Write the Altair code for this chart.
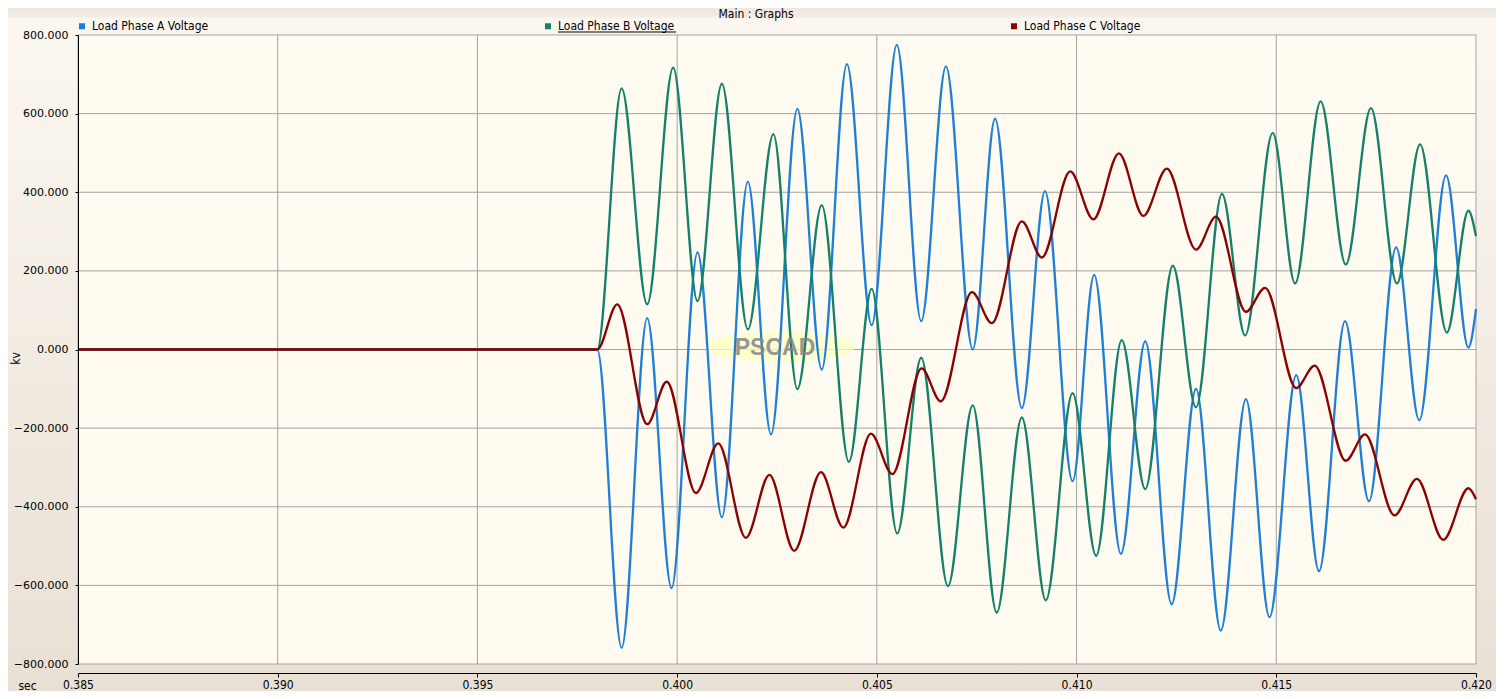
import altair as alt
import pandas as pd

# ---- data (time in ms, voltage in kV) ----
series_names = ["Load Phase A Voltage", "Load Phase B Voltage", "Load Phase C Voltage"]
series_colors = ["#1E7FD9", "#15806A", "#8B0000"]

t_a = [385.00, 398.00, 398.61, 399.25, 399.86, 400.51, 401.12, 401.77, 402.35, 403.01,
       403.62, 404.25, 404.87, 405.50, 406.11, 406.73, 407.40, 407.96, 408.63, 409.21,
       409.90, 410.44, 411.11, 411.72, 412.38, 412.99, 413.61, 414.24, 414.83, 415.50,
       416.07, 416.72, 417.32, 418.00, 418.58, 419.25, 419.81, 420.00]
v_a = [0, 0, -759, 80, -607, 247, -427, 427, -216, 612,
       -51, 726, 62, 775, 72, 720, 0, 587, -149, 403,
       -335, 190, -520, 21, -648, -100, -715, -126, -681, -65,
       -564, 72, -386, 260, -180, 443, 5, 103]

t_b = [385.00, 398.00, 398.61, 399.25, 399.90, 400.51, 401.12, 401.77, 402.41, 403.01,
       403.62, 404.30, 404.87, 405.51, 406.11, 406.78, 407.40, 408.00, 408.63, 409.23,
       409.90, 410.49, 411.13, 411.72, 412.41, 412.99, 413.64, 414.22, 414.91, 415.47,
       416.11, 416.74, 417.37, 418.02, 418.60, 419.27, 419.81, 420.00]
v_b = [0, 0, 664, 115, 717, 123, 676, 51, 548, -101,
       367, -286, 154, -468, -21, -602, -142, -669, -173, -638,
       -111, -525, 24, -355, 213, -147, 396, 36, 551, 168,
       631, 216, 614, 168, 522, 43, 353, 288]

t_c = [385.00, 398.00, 398.50, 399.25, 399.74, 400.47, 401.03, 401.72, 402.31, 402.93,
       403.60, 404.16, 404.85, 405.39, 406.12, 406.60, 407.38, 407.88, 408.63, 409.13,
       409.84, 410.42, 411.06, 411.67, 412.26, 412.99, 413.49, 414.24, 414.72, 415.50,
       415.96, 416.74, 417.22, 417.96, 418.52, 419.18, 419.81, 420.00]
v_c = [0, 0, 115, -190, -82, -365, -239, -479, -319, -512,
       -312, -453, -214, -317, -48, -132, 146, 67, 326, 234,
       453, 331, 499, 340, 460, 254, 338, 96, 157, -98,
       -41, -283, -216, -422, -329, -484, -353, -381]

x_ticks = [385, 390, 395, 400, 405, 410, 415, 420]
y_ticks = [-800, -600, -400, -200, 0, 200, 400, 600, 800]
window_title = ["Main : Graphs"]

rows = []
for name, ts, vs in zip(series_names, [t_a, t_b, t_c], [v_a, v_b, v_c]):
    for i, (t, v) in enumerate(zip(ts, vs)):
        rows.append({"series": name, "t": t, "v": v, "i": i})
df = pd.DataFrame(rows)

W, H = 1398, 629
PL, PT, PR, PB = 70, 27, 20, 27

NARROW = "Tahoma, 'DejaVu Sans Condensed', 'Liberation Sans', sans-serif"
WIDE = "Verdana, 'DejaVu Sans', sans-serif"

xscale = alt.Scale(domain=[385, 420], nice=False, zero=False)
yscale = alt.Scale(domain=[-800, 800], nice=False, zero=False)

x_axis = alt.Axis(values=x_ticks, labelExpr="format(datum.value/1000, '.3f')",
                  grid=False, domainColor="black", tickColor="black", tickSize=4,
                  offset=9, labelFont=NARROW, labelFontSize=12, labelColor="black",
                  labelPadding=2, labelFlush=False,
                  title="sec", titleX=-51, titleY=12, titleAlign="center", titleBaseline="middle",
                  titleFont=NARROW, titleFontSize=12, titleFontWeight="normal",
                  titleColor="black", zindex=1)
y_axis = alt.Axis(values=y_ticks, format=".3f", grid=False, domainColor="black",
                  tickColor="black", tickSize=3, labelPadding=7,
                  labelFont=WIDE, labelFontSize=11, labelColor="black",
                  title="kv", titleX=-63, titleY=323, titleAngle=-90,
                  titleAlign="center", titleBaseline="middle",
                  titleFont=NARROW, titleFontSize=12, titleFontWeight="normal",
                  titleColor="black", zindex=1)

one = pd.DataFrame({"k": [0]})

chrome = alt.Chart(one).mark_rect(
    fill={"gradient": "linear", "x1": 0, "y1": 0, "x2": 0, "y2": 1,
          "stops": [{"offset": 0, "color": "#EDE7DF"},
                    {"offset": 0.012, "color": "#F1EBE3"},
                    {"offset": 0.016, "color": "#FBF7F0"},
                    {"offset": 1, "color": "#E8E0D5"}]}
).encode(x=alt.value(-PL), x2=alt.value(W + PR), y=alt.value(-PT), y2=alt.value(H + PB))

plotbg = alt.Chart(one).mark_rect(fill="#FFFBF0").encode(
    x=alt.value(0), x2=alt.value(W), y=alt.value(0), y2=alt.value(H))

vgrid = alt.Chart(pd.DataFrame({"t": x_ticks})).mark_rule(color="#A3A3A3", strokeWidth=1).encode(
    x=alt.X("t:Q", scale=xscale, axis=x_axis))
hgrid = alt.Chart(pd.DataFrame({"v": y_ticks})).mark_rule(color="#A3A3A3", strokeWidth=1).encode(
    y=alt.Y("v:Q", scale=yscale, axis=y_axis))

lines = alt.Chart(df).mark_line(interpolate="monotone", strokeWidth=2.3).encode(
    x=alt.X("t:Q", scale=xscale, axis=x_axis),
    y=alt.Y("v:Q", scale=yscale, axis=y_axis),
    color=alt.Color("series:N", scale=alt.Scale(domain=series_names, range=series_colors),
                    legend=alt.Legend(orient="none", legendX=-2, legendY=-15, direction="horizontal",
                                      title=None, symbolType="square", symbolSize=9,
                                      symbolStrokeWidth=3, labelFontSize=12,
                                      labelFont=NARROW, labelColor="black", labelOffset=4,
                                      columnPadding=331, gridAlign="all", padding=0, offset=0)),
    order="i:Q",
)

# underline of the selected legend entry (Phase B)
underline = alt.Chart(one).mark_rule(color="black", strokeWidth=1).encode(
    x=alt.value(558 - 78), x2=alt.value(676 - 78), y=alt.value(-3))

wm_ellipse = alt.Chart(one).mark_point(
    shape="M-1,0A1,0.2,0,1,0,1,0A1,0.2,0,1,0,-1,0", filled=True, fill="#FFFFC2",
    opacity=0.75, strokeWidth=0
).encode(x=alt.value(702), y=alt.value(312), size=alt.value(22500))

wm_text = alt.Chart(one).mark_text(
    text="PSCAD", font="Arial, 'Liberation Sans', sans-serif", fontSize=23, fontWeight="bold",
    color="#858585", opacity=0.85, align="center", baseline="middle"
).encode(x=alt.value(697), y=alt.value(313))

title_text = alt.Chart(pd.DataFrame({"label": window_title})).mark_text(
    font=NARROW, fontSize=12, color="black", align="center", baseline="middle"
).encode(text="label:N", x=alt.value(756 - 78), y=alt.value(-21))

chart = alt.layer(chrome, plotbg, vgrid, hgrid, wm_ellipse, lines, wm_text, title_text,
                  underline).properties(
    width=W, height=H,
    padding={"left": PL, "top": PT, "right": PR, "bottom": PB},
    autosize=alt.AutoSizeParams(type="none"),
).configure_view(stroke=None).configure(background="#EFE8DF")

chart.save("out.html", embed_options={"renderer": "svg", "actions": False})
